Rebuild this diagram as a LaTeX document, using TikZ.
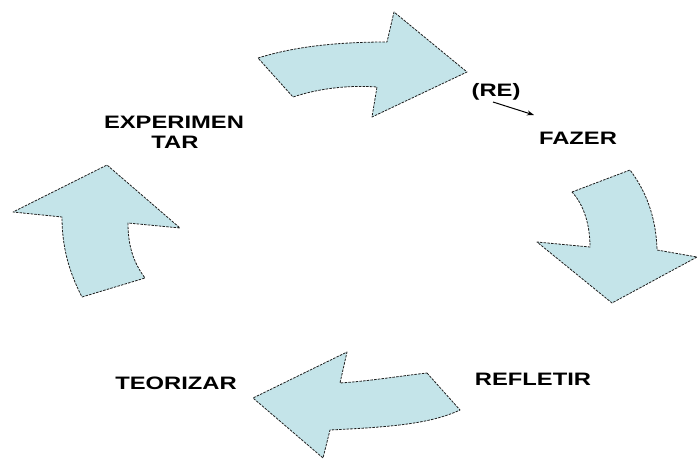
\documentclass[tikz,border=0pt]{standalone}
\usepackage{fontspec}
\setmainfont{Liberation Sans}
\usetikzlibrary{arrows.meta}
\definecolor{arrowfill}{RGB}{196,228,233}
\definecolor{edge}{RGB}{30,30,30}
\tikzset{
  bigarrow/.style={fill=arrowfill, draw=edge, line width=0.8pt, dash pattern=on 2.5pt off 1.2pt, line join=round},
  lbl/.style={font=\fontsize{18}{20}\selectfont\bfseries, inner sep=0pt, anchor=center},
}
\newcommand{\wide}[1]{\scalebox{1.32}[1]{#1}}
\begin{document}
\begin{tikzpicture}[x=1pt,y=-1pt]
\useasboundingbox (0,0) rectangle (698,461);
% top arrow (to the right)
\path[bigarrow] (258,58) .. controls (290,48) and (330,42) .. (387,42) -- (394,12) -- (467,72) -- (372,117) -- (377,87) .. controls (350,85) and (320,88) .. (293,97) -- cycle;
% right arrow (downwards)
\path[bigarrow] (572,192) -- (630,170) .. controls (645,190) and (656,215) .. (657,250) -- (697,257) -- (612,303) -- (537,242) -- (590,247) .. controls (590,225) and (584,205) .. (572,192) -- cycle;
% bottom arrow (to the left)
\path[bigarrow] (427,373) -- (460,410) .. controls (430,424) and (390,427) .. (330,430) -- (323,458) -- (253,398) -- (347,352) -- (340,383) .. controls (370,381) and (400,376) .. (427,373) -- cycle;
% left arrow (upwards)
\path[bigarrow] (82,297) -- (145,278) .. controls (133,262) and (128,245) .. (128,223) -- (180,228) -- (107,165) -- (13,212) -- (62,217) .. controls (62,245) and (68,270) .. (82,297) -- cycle;
% labels
\node[lbl] (exp) at (174,122) {\wide{EXPERIMEN}};
\node[lbl] (tar) at (175,142) {\wide{TAR}};
\node[lbl] (teo) at (176,383) {\wide{TEORIZAR}};
\node[lbl] (ref) at (533,379) {\wide{REFLETIR}};
\node[lbl] (faz) at (578,138) {\wide{FAZER}};
\node[lbl] (re) at (496,92) {\wide{(RE)}};
\coordinate (a1) at (493,102);
\coordinate (a2) at (534,115);
\draw[line width=1pt, -{Stealth[length=7pt,width=5pt]}] (a1) -- (a2);
\end{tikzpicture}
\end{document}
